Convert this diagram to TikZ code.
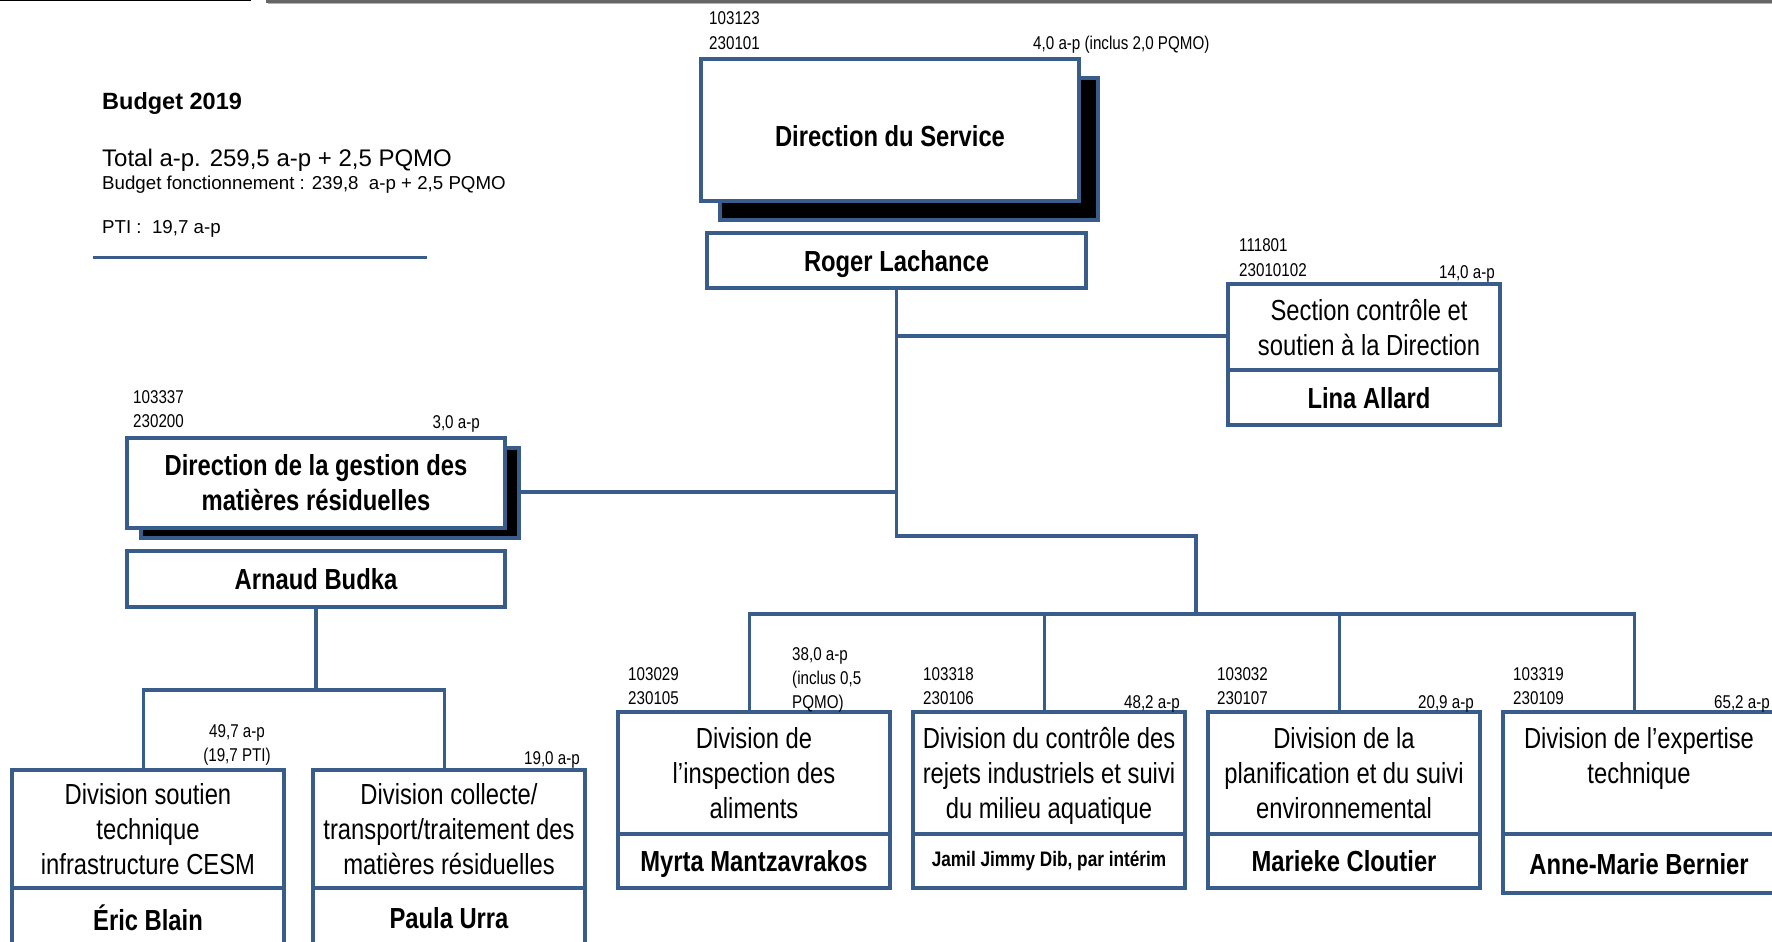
\documentclass[tikz,border=0pt]{standalone}
\usepackage{fontspec}
\setmainfont{Liberation Sans}
\newfontfamily\cond[FakeStretch=0.82]{Liberation Sans}
\definecolor{obl}{HTML}{385D8A}
\begin{document}
\begin{tikzpicture}[x=1pt,y=-1pt]
\tikzset{
  box/.style={draw=obl, line width=3.4pt, fill=white, inner sep=0pt, align=center,
    font=\cond\fontsize{29}{35}\selectfont, minimum width=272pt, text depth=-6pt},
  namebox/.style={draw=obl, line width=3.4pt, fill=white, inner sep=0pt, align=center,
    font=\cond\bfseries\fontsize{29}{35}\selectfont, minimum width=272pt},
  person/.style={namebox, text depth=0pt},
  shadowbox/.style={draw=obl, line width=3.4pt, fill=black, inner sep=0pt},
  conn/.style={draw=obl, line width=3.4pt},
  small/.style={font=\cond\fontsize{18.5}{24}\selectfont, inner sep=0pt},
  budget/.style={anchor=base west, inner sep=0pt},
}
\useasboundingbox (0,0) rectangle (1772,942);
\clip (0,0) rectangle (1772,942);
\fill[white] (0,0) rectangle (1772,942);

% top rules
\draw[black, line width=1.3pt] (0,0.7) -- (251,0.7);
\draw[black!60, line width=2.6pt] (266,1.3) -- (1772,1.3);
\draw[black!30, line width=1.4pt] (268,3.6) -- (1772,3.6);

% budget block
\node[budget, font=\bfseries\fontsize{23.5}{28}\selectfont] (b1) at (102,110) {Budget 2019};
\node[budget, font=\fontsize{24}{28}\selectfont] (b2) at (102,166) {Total a-p. 259,5 a-p + 2,5 PQMO};
\node[budget, font=\fontsize{18.7}{22}\selectfont] (b3) at (102,189) {Budget fonctionnement : 239,8~ a-p + 2,5 PQMO};
\node[budget, font=\fontsize{18.7}{22}\selectfont] (b4) at (102,233) {PTI :~ 19,7 a-p};
\draw[obl, line width=3pt] (93,257) -- (427,257);

% Direction du Service
\node[shadowbox, minimum width=378pt, minimum height=142pt] (dssh) at (909,149) {};
\node[namebox, minimum width=378pt, minimum height=142pt, text height=33pt, text depth=0pt] (ds) at (890,130) {Direction du Service};
\node[person, minimum width=379pt, minimum height=55pt] (roger) at (896.5,260.5) {Roger Lachance};
\node[small, anchor=base west] (dsn1) at (709,25) {103123};
\node[small, anchor=base west] (dsn2) at (709,49) {230101};
\node[small, anchor=base west] (dsn3) at (1033,50) {4,0 a-p (inclus 2,0 PQMO)};

% Section controle
\node[box, minimum height=86pt] (sec) at (1364,327) {\hspace*{10pt}Section contrôle et\\\hspace*{10pt}soutien à la Direction};
\node[person, minimum height=55pt] (lina) at (1364,397.5) {\hspace*{10pt}Lina Allard};
\node[small, anchor=base west] (secn1) at (1239,251) {111801};
\node[small, anchor=base west] (secn2) at (1239,276) {23010102};
\node[small, anchor=base east] (secn3) at (1495,278) {14,0 a-p};

% Direction gestion
\node[shadowbox, minimum width=378pt, minimum height=90pt] (gsh) at (330,493) {};
\node[namebox, minimum width=378pt, minimum height=90pt] (gest) at (316,483) {Direction de la gestion des\\matières résiduelles};
\node[person, minimum width=378pt, minimum height=56pt] (arnaud) at (316,579) {Arnaud Budka};
\node[small, anchor=base west] (gn1) at (133,403) {103337};
\node[small, anchor=base west] (gn2) at (133,427) {230200};
\node[small, anchor=base east] (gn3) at (480,428) {3,0 a-p};

% bottom-left divisions
\node[box, minimum height=118pt, text depth=-12pt] (sout) at (148,829) {Division soutien\\technique\\infrastructure CESM};
\node[person, minimum height=62pt, text depth=2pt] (eric) at (148,919) {Éric Blain};
\node[box, minimum height=118pt, text depth=-12pt] (coll) at (449,829) {Division collecte/\\transport/traitement des\\matières résiduelles};
\node[person, minimum height=62pt, text depth=2pt] (paula) at (449,919) {Paula Urra};
\node[small, anchor=base] (sn1) at (237,737) {49,7 a-p};
\node[small, anchor=base] (sn2) at (237,761) {(19,7 PTI)};
\node[small, anchor=base east] (cn1) at (580,764) {19,0 a-p};

% bottom-right divisions
\node[box, minimum height=122pt] (insp) at (754,773) {Division de\\l’inspection des\\aliments};
\node[person, minimum height=54pt] (myrta) at (754,861) {Myrta Mantzavrakos};
\node[box, minimum height=122pt] (ctrl) at (1049,773) {Division du contrôle des\\rejets industriels et suivi\\du milieu aquatique};
\node[namebox, minimum height=54pt, font=\cond\bfseries\fontsize{21}{25}\selectfont] (jamil) at (1049,861) {Jamil Jimmy Dib, par intérim};
\node[box, minimum height=122pt] (plan) at (1344,773) {Division de la\\planification et du suivi\\environnemental};
\node[person, minimum height=54pt] (marieke) at (1344,861) {Marieke Cloutier};
\node[box, minimum height=122pt] (exp) at (1639,773) {Division de l’expertise\\technique\\\mbox{}};
\node[person, minimum height=59pt] (anne) at (1639,863.5) {Anne-Marie Bernier};

\node[small, anchor=base west] (in1) at (628,680) {103029};
\node[small, anchor=base west] (in2) at (628,704) {230105};
\node[small, anchor=base west] (in3) at (792,660) {38,0 a-p};
\node[small, anchor=base west] (in4) at (792,684) {(inclus 0,5};
\node[small, anchor=base west] (in5) at (792,708) {PQMO)};
\node[small, anchor=base west] (ct1) at (923,680) {103318};
\node[small, anchor=base west] (ct2) at (923,704) {230106};
\node[small, anchor=base east] (ct3) at (1180,708) {48,2 a-p};
\node[small, anchor=base west] (pl1) at (1217,680) {103032};
\node[small, anchor=base west] (pl2) at (1217,704) {230107};
\node[small, anchor=base east] (pl3) at (1474,708) {20,9 a-p};
\node[small, anchor=base west] (ex1) at (1513,680) {103319};
\node[small, anchor=base west] (ex2) at (1513,704) {230109};
\node[small, anchor=base east] (ex3) at (1770,708) {65,2 a-p};

% connectors
\coordinate (hub) at (896.5,536);
\coordinate (hub2) at (1196,614);
\coordinate (secin) at ([yshift=-9pt]sec.west);
\coordinate (gin) at ([yshift=1pt]gsh.east);
\coordinate (bl) at (316,690);
\coordinate (inspT) at ([xshift=-4.5pt]insp.north);
\coordinate (ctrlT) at ([xshift=-4.5pt]ctrl.north);
\coordinate (planT) at ([xshift=-4.5pt]plan.north);
\coordinate (expT) at ([xshift=-4.5pt]exp.north);
\coordinate (soutT) at ([xshift=-4.5pt]sout.north);
\coordinate (collT) at ([xshift=-4.5pt]coll.north);
\draw[conn] (roger.south) -- (hub) -| (hub2);
\draw[conn] (secin) -- (roger.south |- secin);
\draw[conn] (gin) -- (roger.south |- gin);
\draw[conn] (inspT) |- (hub2) -| (expT);
\draw[conn] (ctrlT) -- (ctrlT |- hub2);
\draw[conn] (planT) -- (planT |- hub2);
\draw[conn] (arnaud.south) -- (bl);
\draw[conn] (soutT) |- (bl) -| (collT);
\end{tikzpicture}
\end{document}
